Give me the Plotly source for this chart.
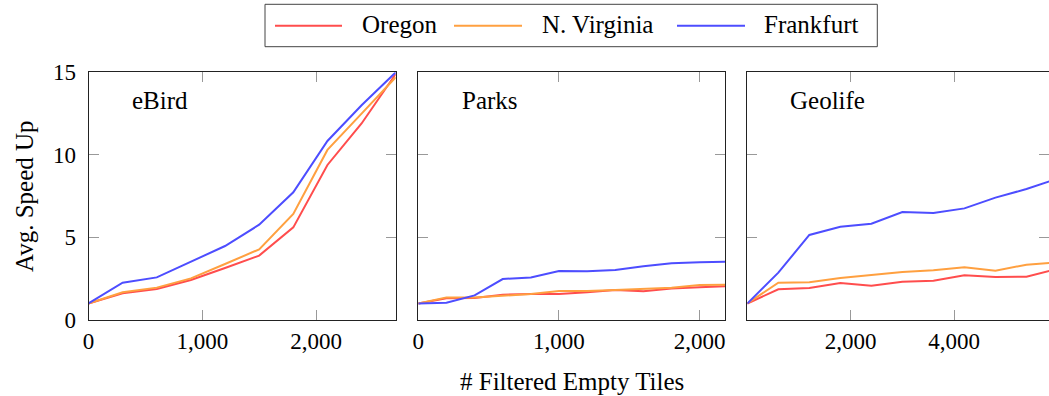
import plotly.graph_objects as go

# ---- data ----
series_names = ["Oregon", "N. Virginia", "Frankfurt"]
series_colors = ["rgb(255,77,77)", "rgb(255,160,64)", "rgb(77,77,255)"]

ebird_x = [0, 300, 600, 900, 1200, 1500, 1800, 2100, 2400, 2700]
ebird_oregon = [1.0, 1.62, 1.88, 2.42, 3.15, 3.90, 5.61, 9.39, 11.9, 14.9]
ebird_virginia = [1.0, 1.68, 1.96, 2.52, 3.39, 4.28, 6.42, 10.3, 12.5, 14.7]
ebird_frankfurt = [1.0, 2.26, 2.58, 3.53, 4.48, 5.77, 7.73, 10.84, 13.0, 15.0]

parks_x = [0, 200, 400, 600, 800, 1000, 1200, 1400, 1600, 1800, 2000, 2180]
parks_oregon = [1.0, 1.31, 1.33, 1.53, 1.57, 1.57, 1.68, 1.82, 1.74, 1.90, 1.98, 2.04]
parks_virginia = [1.0, 1.37, 1.37, 1.49, 1.57, 1.76, 1.76, 1.82, 1.90, 1.96, 2.12, 2.14]
parks_frankfurt = [1.0, 1.05, 1.49, 2.48, 2.58, 2.97, 2.95, 3.03, 3.25, 3.43, 3.49, 3.53]

geo_x = [0, 600, 1200, 1800, 2400, 3000, 3600, 4200, 4800, 5400, 5900]
geo_oregon = [1.0, 1.86, 1.94, 2.24, 2.08, 2.32, 2.38, 2.71, 2.60, 2.62, 3.02]
geo_virginia = [1.0, 2.26, 2.28, 2.54, 2.73, 2.91, 3.01, 3.19, 2.99, 3.35, 3.46]
geo_frankfurt = [1.0, 2.87, 5.15, 5.65, 5.83, 6.54, 6.48, 6.76, 7.41, 7.93, 8.45]

panel_titles = ["eBird", "Parks", "Geolife"]
y_ticks = [0, 5, 10, 15]
x_ticks = [[0, 1000, 2000], [0, 1000, 2000], [2000, 4000, 6000]]
x_ranges = [[0, 2700], [0, 2180], [0, 5836]]

panels = [
    (ebird_x, [ebird_oregon, ebird_virginia, ebird_frankfurt]),
    (parks_x, [parks_oregon, parks_virginia, parks_frankfurt]),
    (geo_x, [geo_oregon, geo_virginia, geo_frankfurt]),
]

W, H = 1049, 396
FONT = "Liberation Serif"
x_domains = [[88.5 / W, 395.7 / W], [418.3 / W, 725.0 / W], [747.3 / W, 1.0]]
y_domain = [(H - 320.0) / H, (H - 72.3) / H]

fig = go.Figure()
for p, (xs, ys_list) in enumerate(panels):
    suffix = "" if p == 0 else str(p + 1)
    for s, ys in enumerate(ys_list):
        fig.add_trace(go.Scatter(
            x=xs, y=ys, mode="lines", name=series_names[s],
            line=dict(color=series_colors[s], width=2),
            xaxis="x" + suffix, yaxis="y" + suffix,
            showlegend=False, legendgroup=series_names[s],
        ))

layout = dict(
    width=W, height=H, margin=dict(l=0, r=0, t=0, b=0),
    paper_bgcolor="white", plot_bgcolor="white",
    font=dict(family=FONT, size=23, color="black"),
    template="none", showlegend=False,
)
for p in range(3):
    suffix = "" if p == 0 else str(p + 1)
    layout["xaxis" + suffix] = dict(
        domain=x_domains[p], range=x_ranges[p], anchor="y" + suffix,
        tickvals=x_ticks[p], tickformat=",d", ticks="inside", ticklen=10,
        tickcolor="#999", tickwidth=1, showgrid=False, zeroline=False,
        showline=True, linecolor="#222", linewidth=1, mirror="ticks",
        tickfont=dict(family=FONT, size=23),
    )
    layout["yaxis" + suffix] = dict(
        domain=y_domain, range=[0, 15], anchor="x" + suffix,
        tickvals=y_ticks, ticks="inside", ticklen=10,
        tickcolor="#999", tickwidth=1, showgrid=False, zeroline=False,
        showline=True, linecolor="#222", linewidth=1, mirror="ticks",
        showticklabels=(p == 0), ticklabelstandoff=7,
        tickfont=dict(family=FONT, size=23),
    )
fig.update_layout(**layout)

for p in range(3):
    suffix = "" if p == 0 else str(p + 1)
    fig.add_annotation(
        text=panel_titles[p], xref="x" + suffix + " domain", yref="y" + suffix + " domain",
        x=0.135, y=0.888, xanchor="left", yanchor="middle", showarrow=False,
        font=dict(family=FONT, size=25),
    )

fig.add_annotation(text="Avg. Speed Up", xref="paper", yref="paper",
                   x=24 / W, y=(H - 196) / H, textangle=-90, showarrow=False,
                   xanchor="center", yanchor="middle", font=dict(family=FONT, size=25))
fig.add_annotation(text="# Filtered Empty Tiles", xref="paper", yref="paper",
                   x=572 / W, y=(H - 381) / H, showarrow=False,
                   xanchor="center", yanchor="middle", font=dict(family=FONT, size=25))

# ---- legend (box, line samples and labels) ----
leg_box = [265.0, 4.3, 877.3, 46.7]
leg_line_x = [(275, 342), (454, 522), (677, 745)]
leg_text_x = [360, 540, 761.7]
leg_y = 25.7
fig.add_shape(type="rect", xref="paper", yref="paper",
              x0=leg_box[0] / W, x1=leg_box[2] / W,
              y0=1 - leg_box[3] / H, y1=1 - leg_box[1] / H,
              line=dict(color="#444", width=1), fillcolor="white")
for s in range(3):
    fig.add_shape(type="line", xref="paper", yref="paper",
                  x0=leg_line_x[s][0] / W, x1=leg_line_x[s][1] / W,
                  y0=1 - leg_y / H, y1=1 - leg_y / H,
                  line=dict(color=series_colors[s], width=2))
    fig.add_annotation(text=series_names[s], xref="paper", yref="paper",
                       x=leg_text_x[s] / W, y=1 - (leg_y - 1) / H,
                       xanchor="left", yanchor="middle", showarrow=False,
                       font=dict(family=FONT, size=25))

fig.write_html("out.html", config={"displayModeBar": False},
               post_script="document.body.style.margin='0';document.body.style.overflow='hidden';")
